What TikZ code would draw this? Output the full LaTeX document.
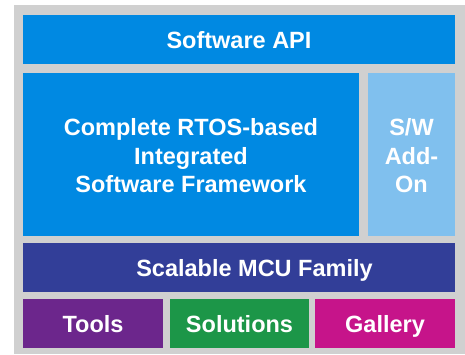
\documentclass[tikz,border=0pt]{standalone}
\usepackage{fontspec}
\setmainfont{Liberation Sans}
\definecolor{bgray}{RGB}{208,208,208}
\definecolor{apiblue}{RGB}{0,137,226}
\definecolor{lightblue}{RGB}{128,192,238}
\definecolor{mcublue}{RGB}{50,62,152}
\definecolor{toolpurple}{RGB}{108,38,140}
\definecolor{solgreen}{RGB}{28,150,72}
\definecolor{galmag}{RGB}{198,20,138}
\begin{document}
\begin{tikzpicture}[x=1pt,y=-1pt,
  blk/.style={draw=none,inner sep=0pt,text=white,font=\bfseries\fontsize{23.5}{28.5}\selectfont,align=center},
  one/.style={blk,anchor=base}]
\useasboundingbox (0,0) rectangle (465,354);
\fill[bgray] (14,5) rectangle (465,354);
\fill[apiblue] (23,15) rectangle (455,64);
\fill[apiblue] (23,73) rectangle (359,236);
\fill[lightblue] (368,73) rectangle (455,236);
\fill[mcublue] (23,243) rectangle (455,292);
\fill[toolpurple] (23,299) rectangle (163,348);
\fill[solgreen] (170,299) rectangle (309,348);
\fill[galmag] (315,299) rectangle (455,348);
\node[one] (api) at (239,48) {Software API};
\node[blk] (rtos) at (191,156) {Complete RTOS-based\\Integrated\\Software Framework};
\node[blk] (addon) at (411.5,156) {S/W\\Add-\\On};
\node[one] (mcu) at (254.5,276) {Scalable MCU Family};
\node[one] (tools) at (93,332) {Tools};
\node[one] (sol) at (239.5,332) {Solutions};
\node[one] (gal) at (385,332) {Gallery};
\end{tikzpicture}
\end{document}
